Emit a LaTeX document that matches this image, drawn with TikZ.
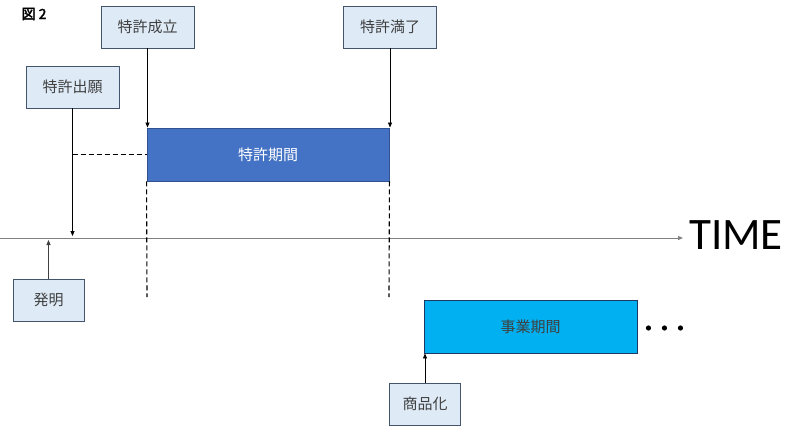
\documentclass[tikz,border=0pt]{standalone}
\usepackage{fontspec}
\setmainfont{Noto Sans CJK JP}[AutoFakeBold=2.5]
\newfontfamily\timefont{Carlito}
\usetikzlibrary{arrows.meta}
\definecolor{eventfill}{HTML}{DEEBF7}
\definecolor{eventline}{HTML}{44546A}
\definecolor{eventtext}{HTML}{404040}
\definecolor{termfill}{HTML}{4472C4}
\definecolor{termline}{HTML}{2F528F}
\definecolor{bizfill}{HTML}{00B0F0}
\definecolor{bizline}{HTML}{1F3864}
\tikzset{
  event/.style={draw=eventline, fill=eventfill, text=eventtext, line width=0.9pt,
    font=\fontsize{15}{17}\selectfont, minimum width=93pt, minimum height=42pt, inner sep=0pt},
  smallevent/.style={event, minimum width=71pt},
  period/.style={line width=0.9pt, font=\fontsize{15}{17}\selectfont, inner sep=0pt, minimum height=53pt},
  tip/.style={-{Triangle[length=5pt,width=4pt]}, line width=0.8pt},
  gap/.style={dash pattern=on 5pt off 3pt, line width=1.1pt}
}
\begin{document}
\begin{tikzpicture}[x=1pt, y=-1pt]
    \useasboundingbox (0,0) rectangle (810,426);
    \node[font=\fontsize{14}{16}\selectfont\bfseries] (fig) at (34,14) {図 2};
    \node[event] (grant) at (147.5,27) {特許成立};
    \node[event] (expire) at (390,27) {特許満了};
    \node[event] (apply) at (72.5,87) {特許出願};
    \node[period, draw=termline, fill=termfill, text=white, minimum width=242pt] (term) at (268,154.5) {特許期間};
    \node[smallevent] (invent) at (48.5,300) {発明};
    \node[period, draw=bizline, fill=bizfill, text=eventtext, minimum width=213pt] (biz) at (530.5,326.5) {事業期間};
    \node[smallevent] (launch) at (425,404) {商品化};
    % time axis
    \coordinate (axisstart) at (0,238);
    \coordinate (axisend) at (683,238);
    \draw[tip, draw=gray, line width=1pt] (axisstart) -- (axisend);
    \node[anchor=base west, inner sep=0pt, font=\timefont\fontsize{45}{50}\selectfont] (time) at (689,249) {TIME};
    % patent arrows
    \draw[tip] (grant.south) -- (grant.south |- term.north);
    \draw[tip] (expire.south) -- (expire.south |- term.north);
    \coordinate (applyhit) at (72.5,236);
    \draw[tip] (apply.south) -- (applyhit);
    \draw[gap] (apply.south |- term.west) -- (term.west);
    \coordinate (termleft) at (147,297);
    \coordinate (termright) at (389,297);
    \draw[gap] (term.south west) -- (termleft);
    \draw[gap] (term.south east) -- (termright);
    % invention and launch
    \coordinate (inventhit) at (48.5,240);
    \draw[tip, draw=eventtext] (invent.north) -- (inventhit);
    \draw[tip] (launch.north) -- (launch.north |- biz.south);
    \foreach \i in {0,1,2}
        \fill (biz.east) ++(11+16*\i,1.5) circle (2.6pt);
\end{tikzpicture}
\end{document}
